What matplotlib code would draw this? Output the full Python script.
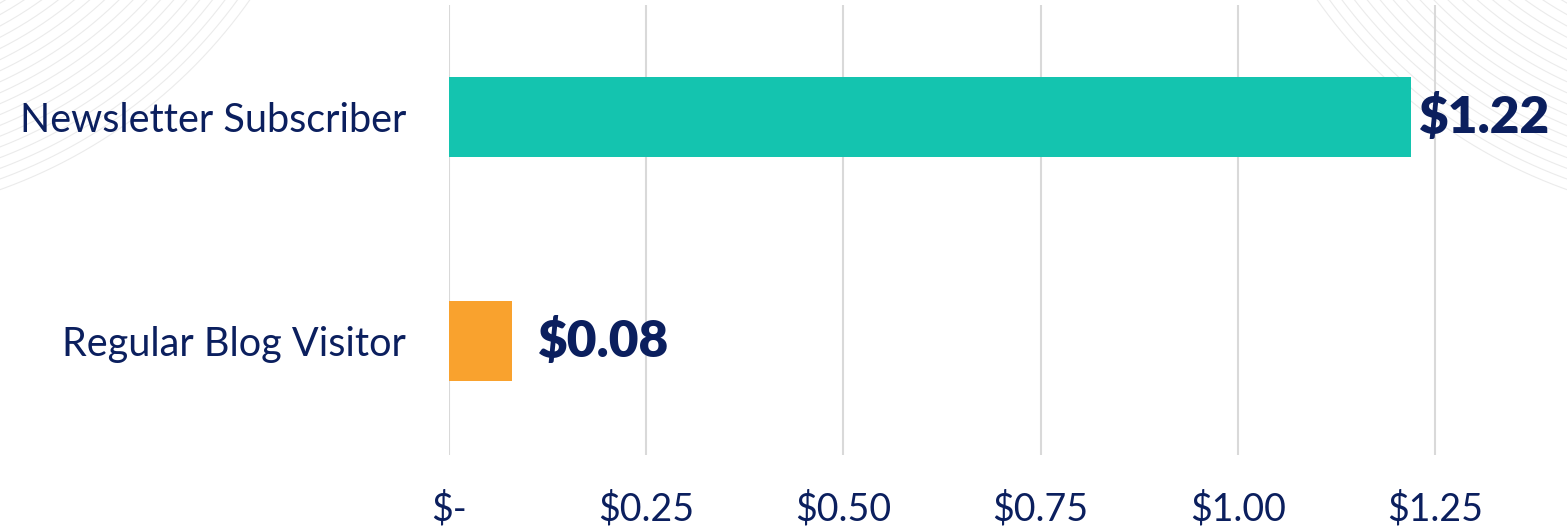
import numpy as np
import matplotlib
matplotlib.use("Agg")
import matplotlib.pyplot as plt

# data
categories = ["Regular Blog Visitor", "Newsletter Subscriber"]
values = [0.08, 1.22]
bar_colors = ["#F9A22E", "#14C4AF"]
value_labels = ["$0.08", "$1.22"]
tick_values = [0, 0.25, 0.50, 0.75, 1.00, 1.25]
tick_labels = ["$-", "$0.25", "$0.50", "$0.75", "$1.00", "$1.25"]

navy = "#0B1F5E"
plt.rcParams["font.family"] = ["Lato", "DejaVu Sans"]

W, H = 1567, 531
fig = plt.figure(figsize=(W / 100, H / 100), dpi=100)

# faint decorative arcs in the top corners
deco = fig.add_axes([0, 0, 1, 1], zorder=0)
deco.set_xlim(0, W)
deco.set_ylim(H, 0)
deco.axis("off")
t = np.linspace(0, np.pi / 2, 300)
for r in range(330, 530, 10):
    deco.plot(-175 + r * np.cos(t), -300 + r * np.sin(t), color="#ebebeb", lw=0.8)
    deco.plot(W + 175 - r * np.cos(t), -300 + r * np.sin(t), color="#ebebeb", lw=0.8)

ax = fig.add_axes([449 / W, (H - 455) / H, (1530 - 449) / W, 450 / H], zorder=1)
ax.patch.set_alpha(0)
ypos = np.arange(len(categories))
ax.barh(ypos, values, height=0.358, color=bar_colors, zorder=2)

offsets = [26, 8]
for y, v, lab, off in zip(ypos, values, value_labels, offsets):
    ax.annotate(lab, (v, y), xytext=(off, 0), textcoords="offset pixels",
                va="center", ha="left", fontsize=37, fontweight="heavy",
                color=navy, zorder=3)

ax.set_xlim(0, 1081 / 788.8)
ax.set_ylim(-0.512, 1.501)
ax.set_xticks(tick_values)
ax.set_xticklabels(tick_labels)
ax.set_yticks(ypos)
ax.set_yticklabels(categories)
ax.tick_params(axis="x", length=0, pad=26, labelsize=27, labelcolor=navy)
ax.tick_params(axis="y", length=0, pad=31, labelsize=28.5, labelcolor=navy)
ax.grid(axis="x", color="#D9D9D9", lw=1.5, zorder=1)
ax.set_axisbelow(True)
for s in ax.spines.values():
    s.set_visible(False)

fig.savefig("out.png", dpi=100)
